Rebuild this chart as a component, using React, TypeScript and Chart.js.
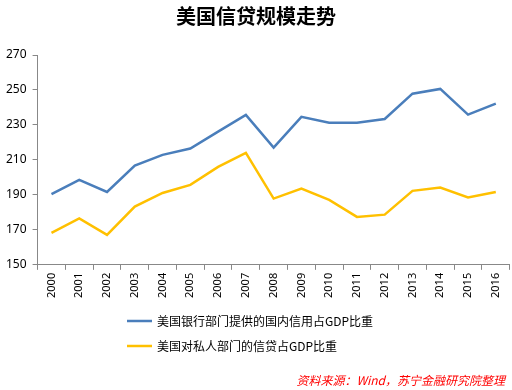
import React, { useEffect, useRef } from "react";
import { Chart, registerables } from "chart.js";

Chart.register(...registerables);

const years = ["2000","2001","2002","2003","2004","2005","2006","2007","2008","2009","2010","2011","2012","2013","2014","2015","2016"];
const bankCredit = [190.4,198.6,191.7,206.8,212.9,216.5,226.2,235.7,217.0,234.6,231.3,231.3,233.4,247.9,250.6,235.9,242.2];
const privateCredit = [168.3,176.5,167.1,183.3,191.1,195.7,206.0,214.0,187.9,193.6,187.1,177.4,178.7,192.3,194.2,188.5,191.7];
const seriesNames = ["美国银行部门提供的国内信用占GDP比重", "美国对私人部门的信贷占GDP比重"];
const titleText = "美国信贷规模走势";
const sourceText = "资料来源：Wind，苏宁金融研究院整理";

const CJK = "'Noto Sans CJK SC', 'Noto Sans', sans-serif";

const legendPlugin = {
  id: "customLegend",
  afterDraw(chart: any) {
    const ctx = chart.ctx as CanvasRenderingContext2D;
    ctx.save();
    const rows = [321, 346];
    chart.data.datasets.forEach((ds: any, i: number) => {
      const y = rows[i];
      ctx.strokeStyle = ds.borderColor;
      ctx.lineWidth = 2.5;
      ctx.beginPath();
      ctx.moveTo(127, y);
      ctx.lineTo(152, y);
      ctx.stroke();
      ctx.fillStyle = "#000";
      ctx.font = `12px ${CJK}`;
      ctx.textBaseline = "middle";
      ctx.textAlign = "left";
      ctx.fillText(ds.label, 157, y);
    });
    ctx.fillStyle = "#ff0000";
    ctx.font = `italic 12px ${CJK}`;
    ctx.textAlign = "right";
    ctx.textBaseline = "middle";
    ctx.fillText(sourceText, 505, 380);
    ctx.restore();
  },
};

export default function App() {
  const ref = useRef<HTMLCanvasElement>(null);
  useEffect(() => {
    if (!ref.current) return;
    const chart = new Chart(ref.current, {
      type: "line",
      data: {
        labels: years,
        datasets: [
          { label: seriesNames[0], data: bankCredit, borderColor: "#4a7ebb", borderWidth: 2.5, pointRadius: 0, tension: 0, fill: false },
          { label: seriesNames[1], data: privateCredit, borderColor: "#ffc000", borderWidth: 2.5, pointRadius: 0, tension: 0, fill: false },
        ],
      },
      options: {
        animation: false,
        responsive: false,
        layout: { padding: { left: 0, right: 0, top: 4, bottom: 89 } },
        plugins: {
          legend: { display: false },
          tooltip: { enabled: false },
          title: {
            display: true,
            text: titleText,
            color: "#000",
            font: { family: CJK, size: 20, weight: "bold" },
            padding: { top: 0, bottom: 27 },
          },
        },
        scales: {
          x: {
            offset: true,
            grid: { display: true, offset: true, drawOnChartArea: false, drawTicks: true, tickLength: 5, color: "#888" },
            border: { display: true, color: "#888" },
            ticks: { minRotation: 90, maxRotation: 90, color: "#000", font: { family: "'Noto Sans', sans-serif", size: 11 }, padding: 3, autoSkip: false },
          },
          y: {
            min: 150,
            max: 270,
            grid: { display: true, drawOnChartArea: false, drawTicks: true, tickLength: 5, color: "#888" },
            border: { display: true, color: "#888" },
            ticks: { stepSize: 20, color: "#000", font: { family: "'Noto Sans', sans-serif", size: 12 }, padding: 6 },
          },
        },
      },
      plugins: [legendPlugin],
    });
    return () => chart.destroy();
  }, []);
  return (
    <div style={{ position: "fixed", left: 0, top: 0, width: 512, height: 390, background: "#fff" }}>
      <canvas ref={ref} width={512} height={390} style={{ width: 512, height: 390 }} />
    </div>
  );
}
